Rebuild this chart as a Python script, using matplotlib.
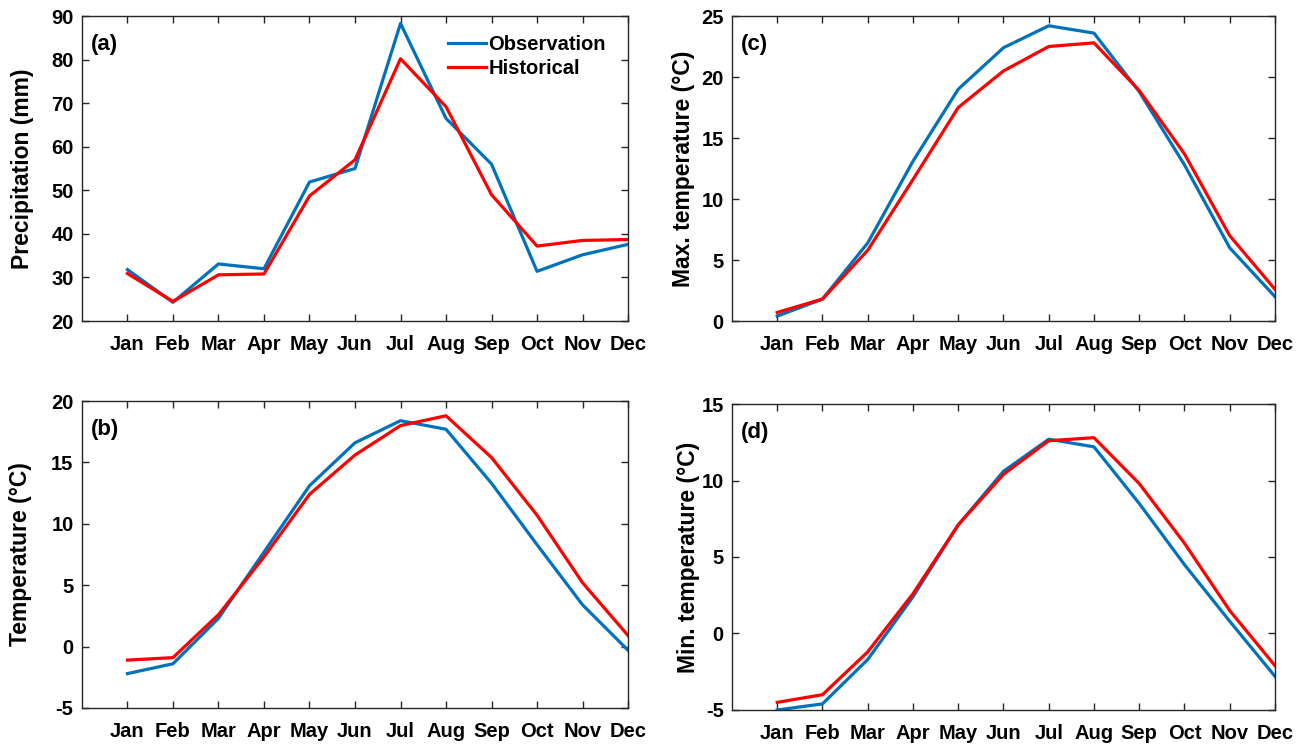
import numpy as np
import matplotlib.pyplot as plt

months = ["Jan", "Feb", "Mar", "Apr", "May", "Jun", "Jul", "Aug", "Sep", "Oct", "Nov", "Dec"]

# monthly climatology: observation vs historical run
prec_obs = [31.8, 24.3, 33.1, 32.0, 51.9, 55.0, 88.3, 66.5, 56.0, 31.4, 35.2, 37.6]
prec_hist = [30.9, 24.5, 30.6, 30.8, 48.7, 57.0, 80.2, 69.2, 49.0, 37.2, 38.5, 38.7]

tmean_obs = [-2.2, -1.4, 2.3, 7.7, 13.1, 16.6, 18.4, 17.7, 13.3, 8.3, 3.4, -0.3]
tmean_hist = [-1.1, -0.9, 2.6, 7.3, 12.4, 15.6, 18.0, 18.8, 15.4, 10.7, 5.2, 0.9]

tmax_obs = [0.4, 1.8, 6.4, 13.1, 19.0, 22.4, 24.2, 23.6, 18.8, 12.8, 6.0, 2.0]
tmax_hist = [0.7, 1.8, 5.8, 11.6, 17.5, 20.5, 22.5, 22.8, 18.9, 13.7, 7.0, 2.6]

tmin_obs = [-5.0, -4.6, -1.7, 2.4, 7.1, 10.6, 12.7, 12.2, 8.5, 4.5, 0.8, -2.8]
tmin_hist = [-4.5, -4.0, -1.2, 2.6, 7.1, 10.4, 12.6, 12.8, 9.8, 5.9, 1.5, -2.1]

plt.rcParams['font.family'] = ['Liberation Sans', 'DejaVu Sans']
plt.rcParams['font.weight'] = 'bold'
plt.rcParams['axes.labelweight'] = 'bold'

blue = '#0072BD'
red = '#FF0000'
x = np.arange(1, 13)

fig = plt.figure(figsize=(13.09, 7.45), dpi=100)

panels = [
    # rect, obs, hist, ylim, yticks, ylabel, tag, ylabel x (axes fraction)
    ([0.0626, 0.5691, 0.4172, 0.4094], prec_obs, prec_hist, (20, 90), np.arange(20, 91, 10), "Precipitation (mm)", "(a)", -0.108),
    ([0.0626, 0.0497, 0.4172, 0.4120], tmean_obs, tmean_hist, (-5, 20), np.arange(-5, 21, 5), "Temperature (°C)", "(b)", -0.112),
    ([0.5592, 0.5691, 0.4148, 0.4094], tmax_obs, tmax_hist, (0, 25), np.arange(0, 26, 5), "Max. temperature (°C)", "(c)", -0.090),
    ([0.5592, 0.0470, 0.4148, 0.4107], tmin_obs, tmin_hist, (-5, 15), np.arange(-5, 16, 5), "Min. temperature (°C)", "(d)", -0.081),
]

for i, (rect, obs, hist, ylim, yt, ylab, tag, labx) in enumerate(panels):
    ax = fig.add_axes(rect)
    ax.plot(x, obs, color=blue, lw=2.3, label="Observation")
    ax.plot(x, hist, color=red, lw=2.3, label="Historical")
    ax.set_xlim(0, 12)
    ax.set_ylim(*ylim)
    ax.set_xticks(x)
    ax.set_xticklabels(months)
    ax.set_yticks(yt)
    ax.set_yticklabels([f"{v:g}" for v in yt])
    ax.tick_params(direction='in', top=True, right=True, length=5, width=1,
                   labelsize=14.5, color='#262626', labelcolor='black')
    ax.tick_params(axis='x', pad=10)
    ax.tick_params(axis='y', pad=6)
    for s in ax.spines.values():
        s.set_color('#262626')
        s.set_linewidth(1)
    ax.set_ylabel(ylab, fontsize=16.5, fontweight='bold', va='center')
    ax.yaxis.set_label_coords(labx, 0.5)
    ax.text(0.016, 0.94, tag, transform=ax.transAxes, fontsize=16,
            fontweight='bold', va='top', ha='left')
    if i == 0:
        ax.legend(loc='upper right', frameon=False, fontsize=14.5,
                  handlelength=1.9, handletextpad=0.1, borderaxespad=0.3,
                  labelspacing=0.25, bbox_to_anchor=(0.985, 0.985))

fig.savefig("out.png", dpi=100)
